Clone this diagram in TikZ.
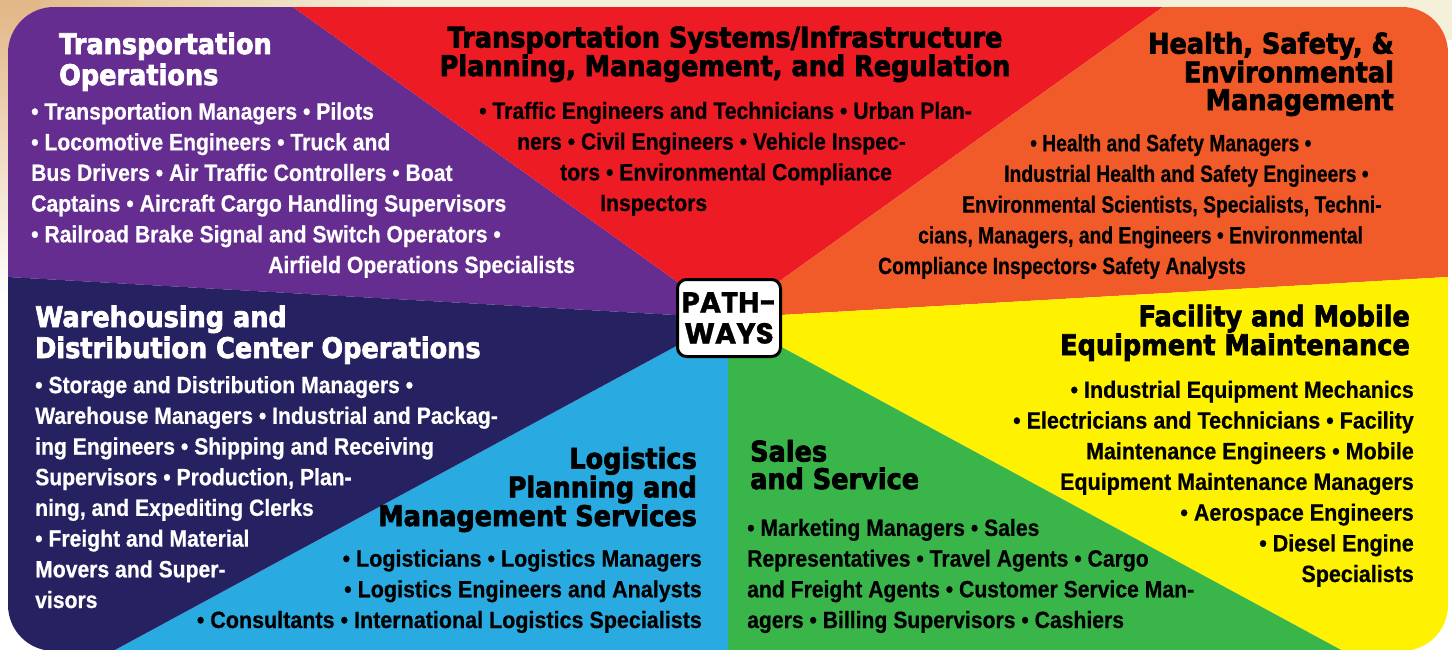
\documentclass[tikz,border=0pt]{standalone}
\usepackage{fontspec}
\setmainfont{Liberation Sans}
\newfontfamily\bodyfont[FakeStretch=0.9,FakeBold=0.6]{Liberation Sans}
\newfontfamily\bodyfontN[FakeStretch=0.82,FakeBold=0.6]{Liberation Sans}
\newfontfamily\bodyfontW[FakeStretch=0.915,FakeBold=0.6]{Liberation Sans}
\newfontfamily\titlefont[FakeStretch=0.9,FakeBold=2.5]{DejaVu Sans}
\newfontfamily\pwfont[FakeBold=1]{Poppins}
\definecolor{purpleC}{RGB}{102,45,145}
\definecolor{redC}{RGB}{237,28,36}
\definecolor{orangeC}{RGB}{241,90,41}
\definecolor{yellowC}{RGB}{255,242,0}
\definecolor{greenC}{RGB}{57,181,74}
\definecolor{blueC}{RGB}{41,171,226}
\definecolor{navyC}{RGB}{38,34,98}
\definecolor{creamC}{RGB}{245,240,218}
\definecolor{tanC}{RGB}{226,182,134}
\begin{document}
\begin{tikzpicture}[x=1pt,y=-1pt,
  body/.style={font=\bodyfont\bfseries\fontsize{23.5}{30.7}\selectfont, inner sep=0pt},
  bodyW/.style={body, text=white},
  bodyK/.style={body, text=black},
  ttl/.style={font=\titlefont\bfseries\fontsize{28.4}{28.5}\selectfont, inner sep=0pt},
  ttlW/.style={ttl, text=white},
  ttlK/.style={ttl, text=black},
  pwbox/.style={draw=black, line width=3pt, fill=white, rounded corners=9pt,
    minimum width=103pt, minimum height=77pt, inner sep=0pt, align=center,
    font=\pwfont\bfseries\fontsize{29}{31}\selectfont}]
\useasboundingbox (0,0) rectangle (1452,649);
% background
\fill[white] (0,0) rectangle (1452,649);
\fill[creamC] (0,0) rectangle (1452,40);
\shade[left color=tanC, right color=creamC] (0,0) rectangle (400,40);
\shade[top color=tanC, bottom color=white] (0,0) rectangle (40,300);
% wedges
\begin{scope}
\clip[rounded corners=46pt] (8,7) rectangle (1448,651);
\coordinate (c) at (728,318);
\fill[purpleC] (c) -- (8,277) -- (8,7) -- (293,7) -- cycle;
\fill[redC] (c) -- (293,7) -- (1163,7) -- cycle;
\fill[orangeC] (c) -- (1163,7) -- (1448,7) -- (1448,277) -- cycle;
\fill[yellowC] (c) -- (1448,277) -- (1448,651) -- (1343,651) -- cycle;
\fill[greenC] (c) -- (1343,651) -- (728,651) -- cycle;
\fill[blueC] (c) -- (728,651) -- (113,651) -- cycle;
\fill[navyC] (c) -- (113,651) -- (8,651) -- (8,277) -- cycle;
\end{scope}
% center
\node[pwbox] (pathways) at (729,318) {PATH-\\WAYS};
% titles (anchor = baseline of last line)
\node[ttlW, anchor=base west, align=left, font=\titlefont\bfseries\fontsize{28.4}{31}\selectfont] (t1) at (59,85) {Transportation\\Operations};
\node[ttlK, anchor=base, align=center] (t2) at (725,76) {Transportation Systems/Infrastructure\\Planning, Management, and Regulation};
\node[ttlK, anchor=base east, align=right, font=\titlefont\bfseries\fontsize{28.4}{27.7}\selectfont] (t3) at (1394,110) {Health, Safety, \&\\Environmental\\Management};
\node[ttlK, anchor=base east, align=right, font=\titlefont\bfseries\fontsize{28.4}{27.5}\selectfont] (t4) at (1410,355) {Facility and Mobile\\Equipment Maintenance};
\node[ttlK, anchor=base west, align=left, font=\titlefont\bfseries\fontsize{28.4}{27.5}\selectfont] (t5) at (750,489) {Sales\\and Service};
\node[ttlK, anchor=base east, align=right, font=\titlefont\bfseries\fontsize{28.4}{28.7}\selectfont] (t6) at (697,526) {Logistics\\Planning and\\Management Services};
\node[ttlW, anchor=base west, align=left, font=\titlefont\bfseries\fontsize{28.4}{31}\selectfont] (t7) at (35,358) {Warehousing and\\Distribution Center Operations};
% bodies (anchor = baseline of last line)
\node[bodyW, anchor=base west, align=left] (b1) at (31,273) {%
• Transportation Managers • Pilots\\
• Locomotive Engineers • Truck and\\
Bus Drivers • Air Traffic Controllers • Boat\\
Captains • Aircraft Cargo Handling Supervisors\\
• Railroad Brake Signal and Switch Operators •\\
\hspace*{237pt}Airfield Operations Specialists};
\node[bodyK, anchor=base west, align=left] (b2) at (479,211) {%
• Traffic Engineers and Technicians • Urban Plan-\\
\hspace*{38pt}ners • Civil Engineers • Vehicle Inspec-\\
\hspace*{81pt}tors • Environmental Compliance\\
\hspace*{121pt}Inspectors};
\node[bodyK, anchor=base west, align=left, font=\bodyfontN\bfseries\fontsize{23.5}{30.7}\selectfont] (b3) at (878,274) {%
\hspace*{152pt}• Health and Safety Managers •\\
\hspace*{126pt}Industrial Health and Safety Engineers •\\
\hspace*{84pt}Environmental Scientists, Specialists, Techni-\\
\hspace*{40pt}cians, Managers, and Engineers • Environmental\\
Compliance Inspectors• Safety Analysts};
\node[bodyK, anchor=base east, align=right, font=\bodyfontW\bfseries\fontsize{23.5}{30.7}\selectfont] (b4) at (1414,582) {%
• Industrial Equipment Mechanics\\
• Electricians and Technicians • Facility\\
Maintenance Engineers • Mobile\\
Equipment Maintenance Managers\\
• Aerospace Engineers\\
• Diesel Engine\\
Specialists};
\node[bodyK, anchor=base west, align=left] (b5) at (747,628) {%
• Marketing Managers • Sales\\
Representatives • Travel Agents • Cargo\\
and Freight Agents • Customer Service Man-\\
agers • Billing Supervisors • Cashiers};
\node[bodyK, anchor=base east, align=right, font=\bodyfontW\bfseries\fontsize{23.5}{30.7}\selectfont] (b6) at (702,628) {%
• Logisticians • Logistics Managers\\
• Logistics Engineers and Analysts\\
• Consultants • International Logistics Specialists};
\node[bodyW, anchor=base west, align=left] (b7) at (35,608) {%
• Storage and Distribution Managers •\\
Warehouse Managers • Industrial and Packag-\\
ing Engineers • Shipping and Receiving\\
Supervisors • Production, Plan-\\
ning, and Expediting Clerks\\
• Freight and Material\\
Movers and Super-\\
visors};
\end{tikzpicture}
\end{document}
